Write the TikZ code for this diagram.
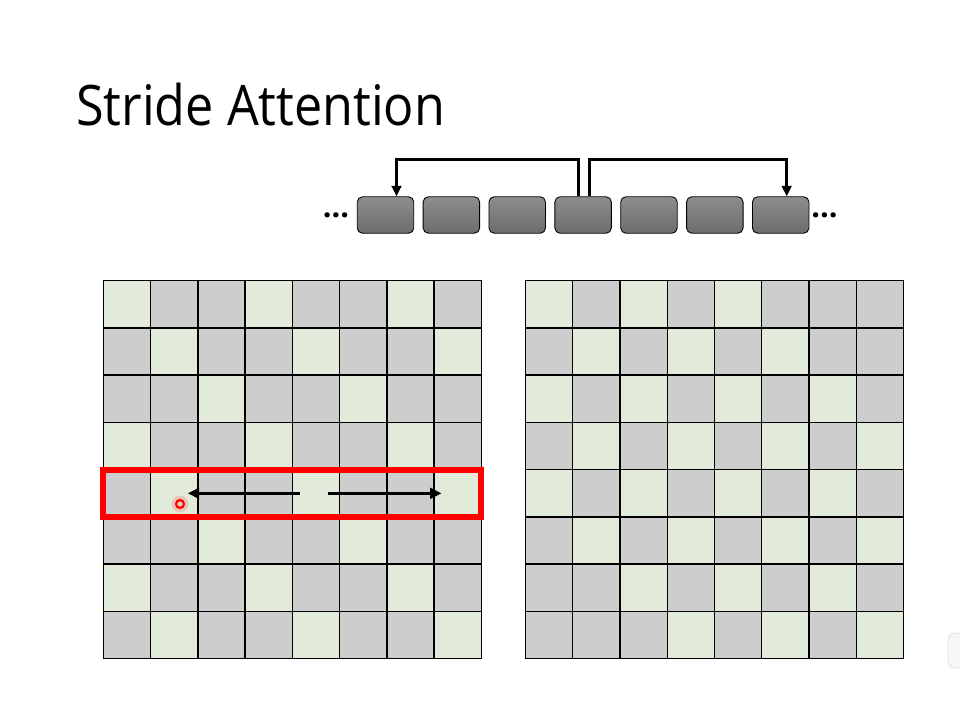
\documentclass[tikz,border=0pt]{standalone}
\usepackage{fontspec}
\setmainfont{Open Sans}
\newfontfamily\titlefont[FakeStretch=0.9]{Open Sans}
\usetikzlibrary{positioning, calc, arrows.meta}
\definecolor{cellgreen}{HTML}{E2EBDA}
\definecolor{cellgray}{HTML}{CDCDCD}
\definecolor{toptone}{HTML}{8E8E8E}
\definecolor{bottone}{HTML}{6C6C6C}

\begin{document}
\begin{tikzpicture}[x=0.02cm, y=-0.02cm,
    cell/.style={draw=black, line width=0.8pt, minimum size=0.945cm, inner sep=0pt, outer sep=0pt},
    tok/.style={draw=black, line width=0.5pt, rounded corners=3pt, top color=toptone, bottom color=bottone, minimum width=1.13cm, minimum height=0.73cm, inner sep=0pt},
    link/.style={line width=1.7pt, -{Triangle[length=6pt, width=5.5pt]}},
    pointer/.style={line width=1.9pt, -{Triangle[length=6.5pt, width=6pt]}},
    dots/.style={font=\fontsize{17.5}{17.5}\selectfont\bfseries, inner sep=0pt}]

    \useasboundingbox (0,0) rectangle (960,720);
    \fill[white] (0,0) rectangle (960,720);

    % title
    \node[anchor=base west, inner sep=0pt, font=\titlefont\fontsize{31.8}{31.8}\selectfont] (title) at (76,125) {Stride Attention};

    % token sequence
    \node[tok] (t1) at (385.5,215) {};
    \foreach \k [remember=\k as \p (initially 1)] in {2,...,7}
        \node[tok, right=0.17cm of t\p] (t\k) {};
    \node[dots] (dl) at (336,215) {...};
    \node[dots] (dr) at (824.5,215) {...};

    % strided links
    \draw[link] ([xshift=-0.1cm]t4.north) -- ++(0cm,0.74cm) -| ([xshift=0.22cm]t1.north);
    \draw[link] ([xshift=0.13cm]t4.north) -- ++(0cm,0.74cm) -| ([xshift=0.12cm]t7.north);

    % left grid: every third diagonal
    \foreach \i in {0,...,7}
        \foreach \j in {0,...,7} {
            \pgfmathtruncatemacro\on{mod(\i-\j+24,3)==0 ? 1 : 0}
            \ifnum\on=1 \def\fc{cellgreen}\else\def\fc{cellgray}\fi
            \node[cell, fill=\fc] (L-\i-\j) at ({103.3+47.25*(\j+0.5)},{280.7+47.25*(\i+0.5)}) {};
        }

    % right grid: checkered band
    \foreach \i in {0,...,7}
        \foreach \j in {0,...,7} {
            \pgfmathtruncatemacro\on{and(mod(\i+\j,2)==0, abs(\i-\j)<=4) ? 1 : 0}
            \ifnum\on=1 \def\fc{cellgreen}\else\def\fc{cellgray}\fi
            \node[cell, fill=\fc] (R-\i-\j) at ({525.5+47.25*(\j+0.5)},{280.7+47.25*(\i+0.5)}) {};
        }

    % highlighted row
    \draw[red, line width=3.6pt] (L-4-0.north west) rectangle (L-4-7.south east);
    \draw[pointer] ([xshift=0.15cm]L-4-4.west) -- ([xshift=-0.2cm]L-4-1.east);
    \draw[pointer] ([xshift=-0.23cm]L-4-4.east) -- ([xshift=0.15cm]L-4-7.west);

    % laser pointer
    \fill[red, opacity=0.15] (180,504) circle (0.17cm);
    \node[circle, draw=red, line width=1.2pt, minimum size=0.16cm, inner sep=0pt] (cursor) at (180,504) {};

    % corner of a floating panel
    \draw[gray!25, fill=gray!6, rounded corners=4pt] (948,633) rectangle (975,668);
\end{tikzpicture}
\end{document}
